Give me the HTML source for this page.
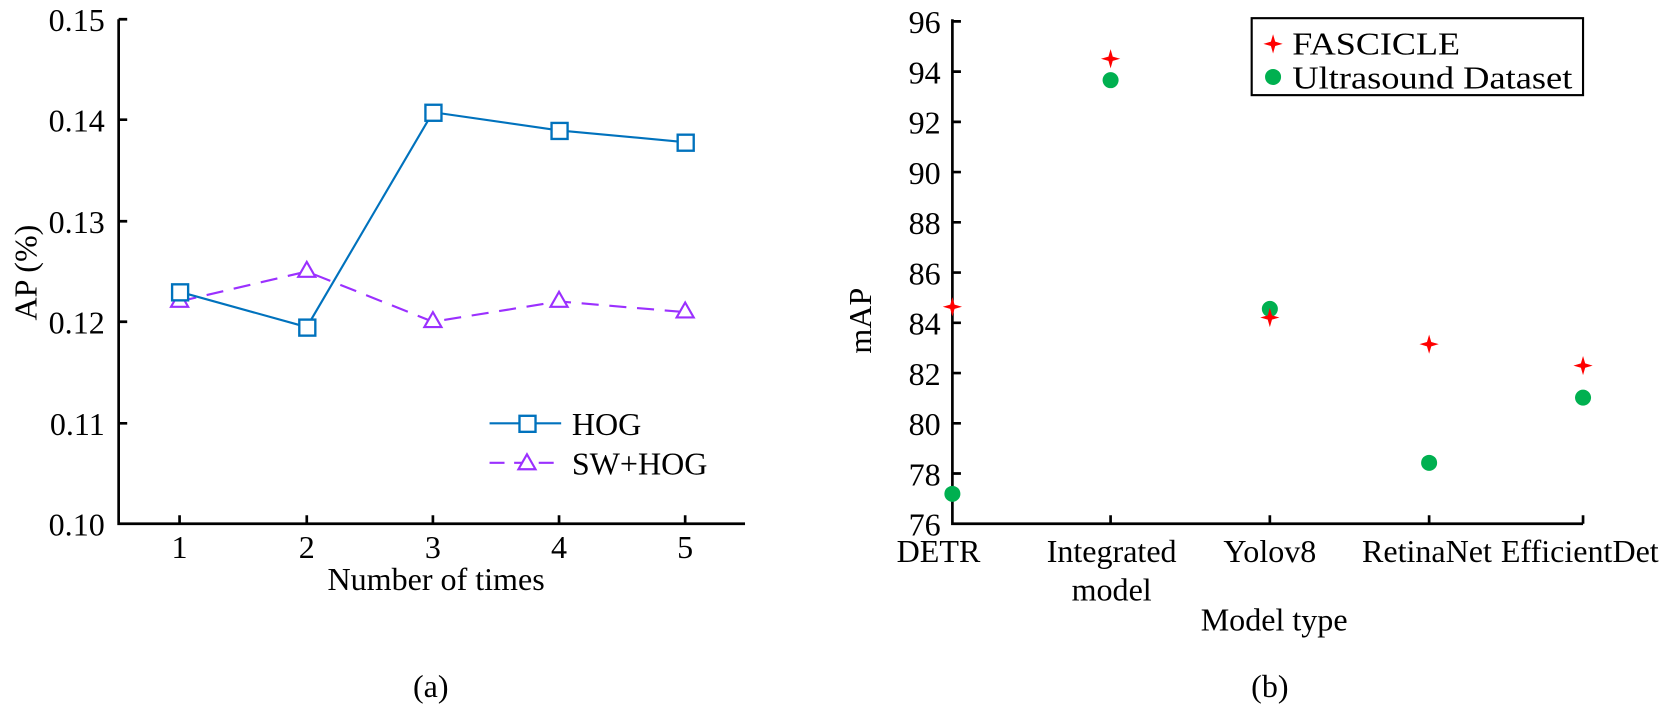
<!DOCTYPE html>
<html><head><meta charset="utf-8"><style>
html,body{margin:0;padding:0;background:#fff;overflow:hidden;}
svg{display:block;font-family:"Liberation Serif",serif;}
</style></head><body>
<svg width="1676" height="705" viewBox="0 0 1676 705" xmlns="http://www.w3.org/2000/svg">
<g transform="scale(1.0689)">
<!-- Left chart -->
<g stroke="#000" stroke-width="2.5" fill="none">
<path d="M111,18 V490 H697"/>
<path d="M111,18h8 M111,112h8 M111,207h8 M111,301h8 M111,396h8"/>
<path d="M168,490v-8 M287,490v-8 M405,490v-8 M523,490v-8 M641,490v-8"/>
</g>
<g font-size="30" text-anchor="end" fill="#000">
<text x="98" y="29">0.15</text><text x="98" y="123">0.14</text><text x="98" y="218">0.13</text>
<text x="98" y="312">0.12</text><text x="98" y="407">0.11</text><text x="98" y="501">0.10</text>
</g>
<g font-size="30" text-anchor="middle">
<text x="168" y="522">1</text><text x="287" y="522">2</text><text x="405" y="522">3</text><text x="523" y="522">4</text><text x="641" y="522">5</text>
<text x="408" y="552">Number of times</text>
<text x="403" y="652">(a)</text>
<text transform="translate(34,255) rotate(-90)">AP (%)</text>
</g>
<polyline points="168,282 287,254 405,301 523,282 641,292" fill="none" stroke="#9b30ff" stroke-width="2" stroke-dasharray="16,10"/>
<g fill="#fff" stroke="#9b30ff" stroke-width="2">
<path d="M168,273 l-8,14 h16z"/><path d="M287,245 l-8,14 h16z"/><path d="M405,292 l-8,14 h16z"/><path d="M523,273 l-8,14 h16z"/><path d="M641,283 l-8,14 h16z"/>
</g>
<polyline points="168,273 287,306 405,105 523,122 641,133" fill="none" stroke="#0072bd" stroke-width="2"/>
<g fill="#fff" stroke="#0072bd" stroke-width="2.2">
<rect x="161" y="266" width="15" height="15"/><rect x="280" y="299" width="15" height="15"/><rect x="398" y="98" width="15" height="15"/><rect x="516" y="115" width="15" height="15"/><rect x="634" y="126" width="15" height="15"/>
</g>
<line x1="458" y1="396" x2="525" y2="396" stroke="#0072bd" stroke-width="2"/>
<rect x="486" y="389" width="15" height="15" fill="#fff" stroke="#0072bd" stroke-width="2.2"/>
<line x1="458" y1="433" x2="525" y2="433" stroke="#9b30ff" stroke-width="2" stroke-dasharray="14,9"/>
<path d="M493,425 l-8,14 h16z" fill="#fff" stroke="#9b30ff" stroke-width="2"/>
<g font-size="30"><text x="535" y="407">HOG</text><text x="535" y="444">SW+HOG</text></g>

<!-- Right chart -->
<g stroke="#000" stroke-width="2.5" fill="none">
<path d="M891,18 V490 H1481"/>
<path d="M891,20h8 M891,67h8 M891,114h8 M891,161h8 M891,208h8 M891,255h8 M891,302h8 M891,349h8 M891,396h8 M891,443h8"/>
<path d="M1039,490v-8 M1188,490v-8 M1337,490v-8 M1481,490v-8"/>
</g>
<g font-size="30" text-anchor="end">
<text x="880" y="31">96</text><text x="880" y="78">94</text><text x="880" y="125">92</text><text x="880" y="172">90</text><text x="880" y="219">88</text>
<text x="880" y="266">86</text><text x="880" y="313">84</text><text x="880" y="360">82</text><text x="880" y="407">80</text><text x="880" y="454">78</text><text x="880" y="501">76</text>
</g>
<g font-size="30" text-anchor="middle">
<text x="878" y="526">DETR</text><text x="1040" y="526">Integrated</text><text x="1040" y="562">model</text>
<text x="1188" y="526">Yolov8</text><text x="1335" y="526">RetinaNet</text><text x="1478" y="526">EfficientDet</text>
<text x="1192" y="590">Model type</text>
<text x="1188" y="652">(b)</text>
<text transform="translate(815,300) rotate(-90)">mAP</text>
</g>
<g fill="#00b050">
<circle cx="891" cy="462" r="7.5"/><circle cx="1039" cy="75" r="7.5"/><circle cx="1188" cy="289" r="7.5"/><circle cx="1337" cy="433" r="7.5"/><circle cx="1481" cy="372" r="7.5"/>
</g>
<g fill="#ff0000">
<path d="M891,278 l2,7 7,2 -7,2 -2,7 -2,-7 -7,-2 7,-2z"/>
<path d="M1039,46 l2,7 7,2 -7,2 -2,7 -2,-7 -7,-2 7,-2z"/>
<path d="M1188,288 l2,7 7,2 -7,2 -2,7 -2,-7 -7,-2 7,-2z"/>
<path d="M1337,313 l2,7 7,2 -7,2 -2,7 -2,-7 -7,-2 7,-2z"/>
<path d="M1481,333 l2,7 7,2 -7,2 -2,7 -2,-7 -7,-2 7,-2z"/>
<path d="M1191,32 l2,7 7,2 -7,2 -2,7 -2,-7 -7,-2 7,-2z"/>
</g>
<rect x="1171" y="17" width="310" height="72" fill="none" stroke="#000" stroke-width="2"/>
<circle cx="1191" cy="72" r="7.5" fill="#00b050"/>
<g font-size="30"><text x="1209" y="51" textLength="157" lengthAdjust="spacingAndGlyphs">FASCICLE</text><text x="1209" y="83" textLength="262" lengthAdjust="spacingAndGlyphs">Ultrasound Dataset</text></g>
</g>
</svg>
</body></html>
